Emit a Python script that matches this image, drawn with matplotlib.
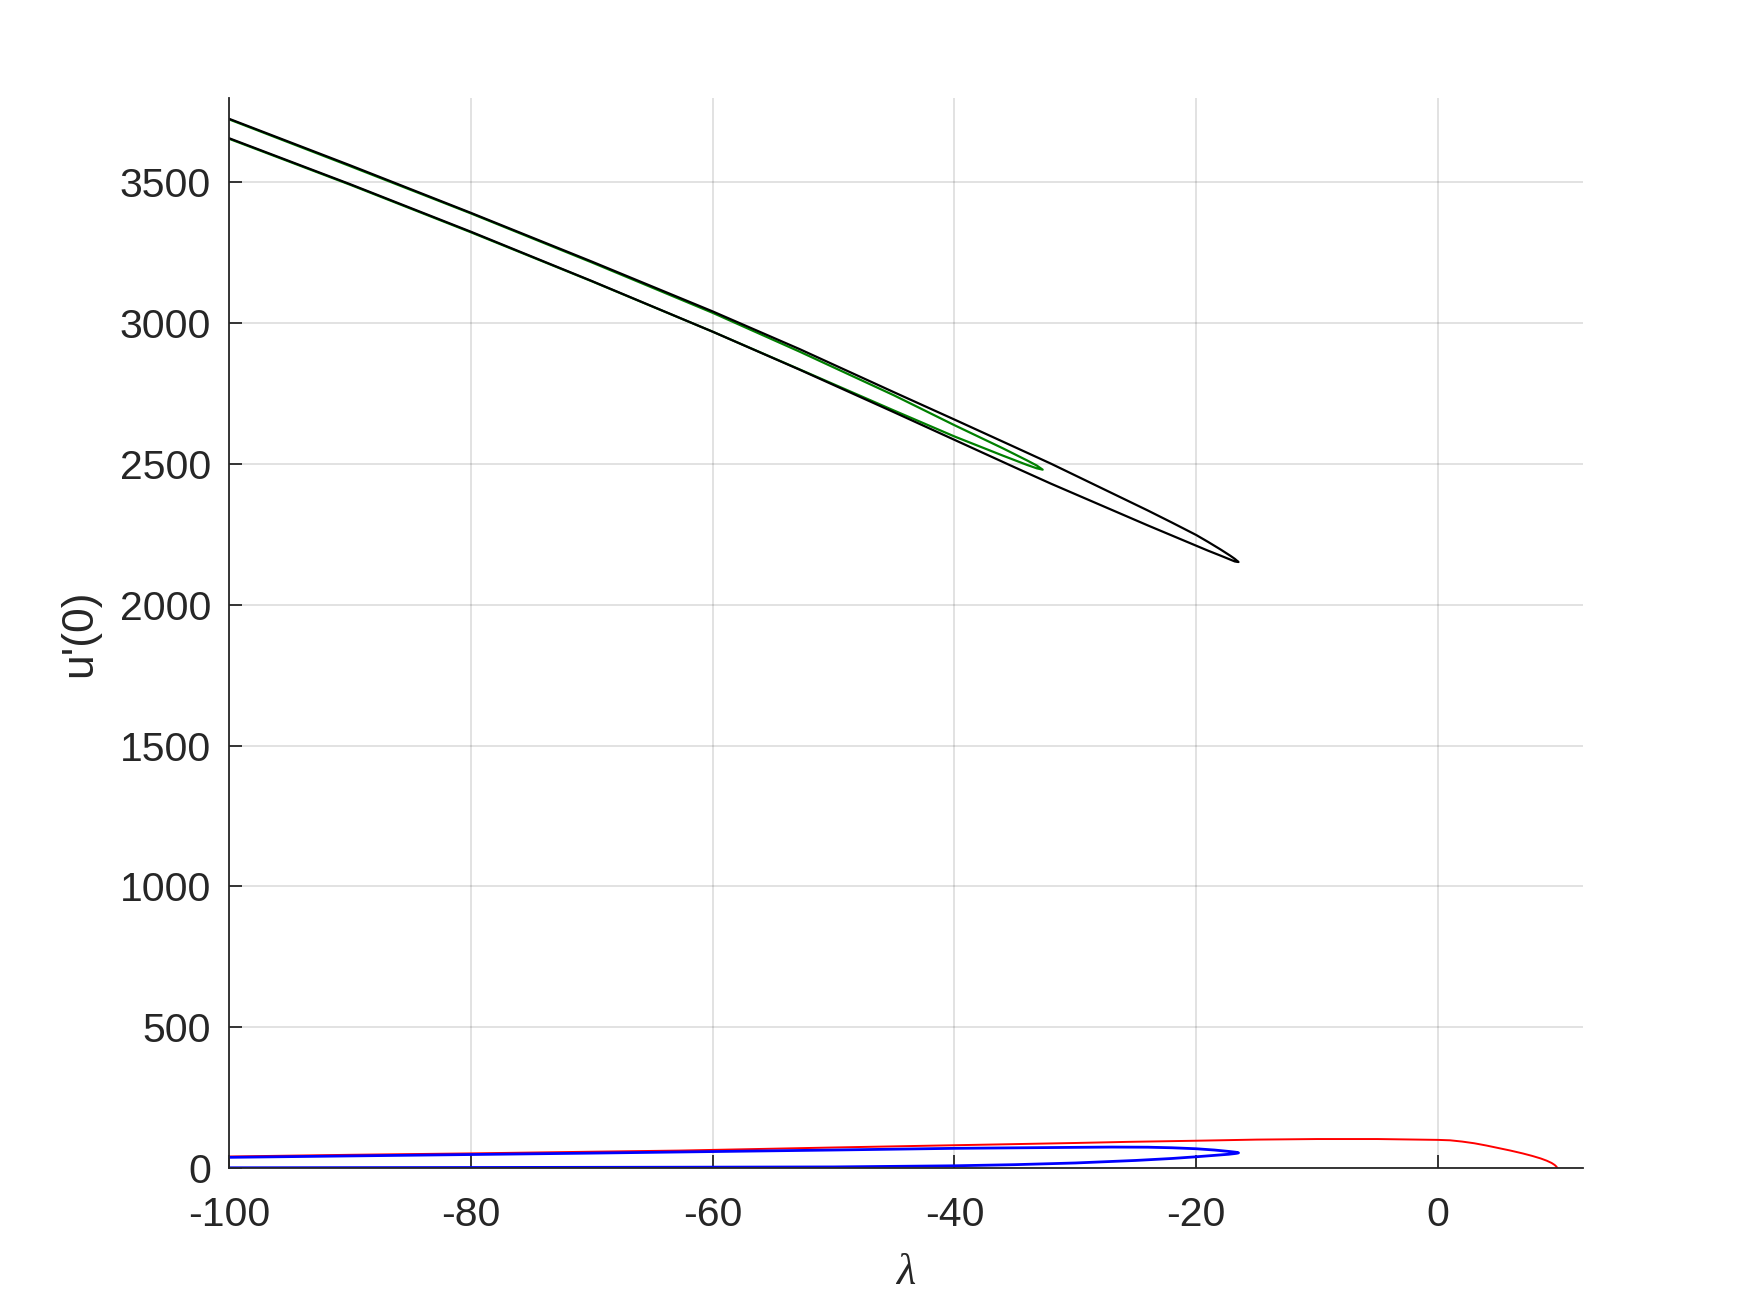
import matplotlib
matplotlib.use("Agg")
import matplotlib.pyplot as plt

# Bifurcation branches: lambda vs u'(0), each listed as a closed fold
# (upper branch out to the turning point, lower branch back)
black_lam = [-100, -90, -80, -70, -60, -52.8, -45, -40, -35, -32, -28, -24, -22, -20, -19, -18, -17.2, -16.8, -16.5,
             -16.8, -17.2, -18, -19, -20, -24, -28, -32, -35, -40, -45, -52.8, -60, -70, -80, -90, -100]
black_val = [3726, 3561, 3392, 3219, 3042, 2908, 2755, 2658, 2560, 2501, 2418, 2335, 2292, 2248, 2223, 2197, 2175, 2163, 2152,
             2154, 2161, 2175, 2192, 2210, 2282, 2356, 2430, 2488, 2586, 2684, 2835, 2970, 3150, 3325, 3494, 3657]

green_lam = [-100, -90, -80, -70, -60, -52.8, -45, -40, -36, -34, -33.2, -32.7,
             -33.2, -34, -36, -40, -45, -52.8, -60, -70, -80, -90, -100]
green_val = [3724, 3558, 3390, 3216, 3037, 2899, 2744, 2638, 2556, 2513, 2495, 2480,
             2485, 2497, 2530, 2598, 2690, 2836, 2970, 3149, 3323, 3492, 3655]

red_lam = [-100, -90, -80, -70, -62.8, -50, -40, -30, -25.6, -20, -15, -10, -5, 0,
           1, 2, 3, 4, 5, 6, 7, 7.8, 8.5, 9, 9.4, 9.65, 9.8, 9.87]
red_val = [41, 47, 52, 58, 62, 73, 81, 89, 93, 97, 101, 103, 103, 100,
           98.5, 94, 88, 80, 71, 62, 52, 43, 34, 26, 18, 11, 5, 0]

blue_lam = [-100, -90, -80, -70, -62.8, -50, -40, -30, -27, -24, -22, -20, -18.5, -17.3, -16.7, -16.5,
            -16.7, -17.3, -18.5, -20, -22, -25, -30, -35, -40, -50, -62.8, -80, -100]
blue_val = [38, 43, 48, 53, 57, 64, 70, 73.5, 74.5, 74, 72, 68.5, 64, 59, 56, 54,
            52, 49, 45, 40, 34, 27, 18, 12, 8, 4, 3, 2, 1]

x_ticks = [-100, -80, -60, -40, -20, 0]
y_ticks = [0, 500, 1000, 1500, 2000, 2500, 3000, 3500]

axis_color = (0.15, 0.15, 0.15)
plt.rcParams["font.family"] = ["Liberation Sans", "DejaVu Sans"]

fig = plt.figure(figsize=(17.5, 13.13), dpi=100)
ax = fig.add_axes([0.1309, 0.1104, 0.7737, 0.815])

ax.plot(green_lam, green_val, color=(0, 0.5, 0), lw=1.6)
ax.plot(black_lam, black_val, color="black", lw=1.6)
ax.plot(red_lam, red_val, color="red", lw=1.4)
ax.plot(blue_lam, blue_val, color="blue", lw=2.0)

ax.set_xlim(-100, 12)
ax.set_ylim(0, 3800)
ax.set_xticks(x_ticks)
ax.set_yticks(y_ticks)
ax.set_xticklabels([str(t) for t in x_ticks])
ax.set_yticklabels([str(t) for t in y_ticks])

ax.grid(True, color=axis_color, alpha=0.15, lw=1.3)
ax.set_axisbelow(True)
for side in ["top", "right"]:
    ax.spines[side].set_visible(False)
for side in ["left", "bottom"]:
    ax.spines[side].set_color(axis_color)
    ax.spines[side].set_linewidth(1.3)

ax.tick_params(axis="both", direction="in", length=9.5, width=1.3, colors=axis_color,
               labelsize=29.5)
ax.tick_params(axis="x", pad=20)
ax.tick_params(axis="y", pad=13)

ax.set_ylabel("u'(0)", fontsize=32, color=axis_color, labelpad=14)
ax.set_xlabel("λ", fontsize=32, color=axis_color, family=["Liberation Serif", "DejaVu Serif"],
              style="italic", labelpad=14)

fig.savefig("out.png", dpi=100, facecolor="white")
